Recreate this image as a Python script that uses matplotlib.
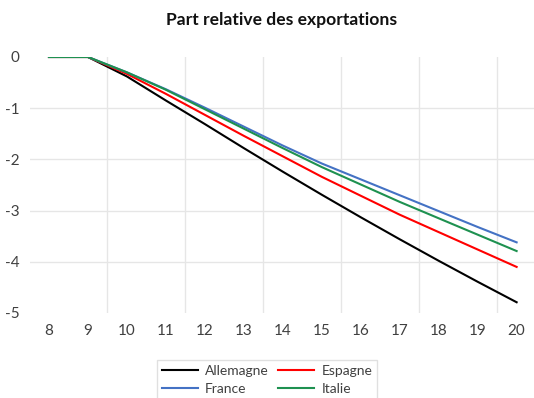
import numpy as np
import matplotlib.pyplot as plt
from matplotlib.ticker import FixedLocator

plt.rcParams['font.family'] = ['Lato', 'DejaVu Sans']
plt.rcParams['axes.unicode_minus'] = False

years = [8, 9, 10, 11, 12, 13, 14, 15, 16, 17, 18, 19, 20]
allemagne = [0, 0, -0.38, -0.85, -1.31, -1.78, -2.24, -2.69, -3.13, -3.56, -3.98, -4.39, -4.79]
espagne = [0, 0, -0.33, -0.72, -1.13, -1.54, -1.94, -2.34, -2.71, -3.08, -3.42, -3.76, -4.10]
france = [0, 0, -0.30, -0.63, -0.99, -1.36, -1.73, -2.08, -2.39, -2.70, -3.01, -3.32, -3.62]
italie = [0, 0, -0.30, -0.64, -1.02, -1.40, -1.78, -2.15, -2.49, -2.83, -3.15, -3.47, -3.79]

W, H = 534, 398
fig = plt.figure(figsize=(W / 100, H / 100), dpi=100)
# plot area is cut at the right edge of the picture
ax = fig.add_axes([29.5 / W, 1 - 313 / H, (534 - 29.5) / W, (313 - 57) / H])

l1, = ax.plot(years, allemagne, color='black', lw=1.5, label='Allemagne')
l2, = ax.plot(years, espagne, color='#FF0000', lw=1.5, label='Espagne')
l3, = ax.plot(years, france, color='#4472C4', lw=1.5, label='France')
l4, = ax.plot(years, italie, color='#1E9150', lw=1.5, label='Italie')

ax.set_xlim(7.5, 7.5 + (534 - 29.5) / 38.97)
ax.set_ylim(-5, 0)
ax.set_xticks(years)
ax.set_yticks([0, -1, -2, -3, -4, -5])
ax.set_yticklabels(['0', '-1', '-2', '-3', '-4', '-5'])
ax.xaxis.set_minor_locator(FixedLocator([9.5, 11.5, 13.5, 15.5, 17.5, 19.5]))
ax.tick_params(axis='both', which='both', length=0, labelsize=11, colors='#404040')
ax.tick_params(axis='x', pad=8)
ax.tick_params(axis='y', pad=7)
ax.xaxis.grid(True, which='minor', color='#E6E6E6', lw=1)
for y in [-1, -2, -3, -4]:
    ax.axhline(y, color='#E6E6E6', lw=1, zorder=0)
ax.set_axisbelow(True)
for s in ax.spines.values():
    s.set_visible(False)

fig.text(282 / W, 1 - 19.5 / H, 'Part relative des exportations', ha='center', va='center',
         fontsize=12.6, fontweight='bold', color='#111111')

leg = fig.legend([l1, l3, l2, l4], ['Allemagne', 'France', 'Espagne', 'Italie'],
                 ncol=2, loc='upper center', bbox_to_anchor=(267 / W, 1 - 353 / H),
                 fontsize=10, handlelength=2.6, columnspacing=0.7, handletextpad=0.5,
                 fancybox=False, edgecolor='#D9D9D9', labelspacing=0.45,
                 borderpad=0.35)
for t in leg.get_texts():
    t.set_color('#404040')

plt.savefig('out.png', dpi=100)
